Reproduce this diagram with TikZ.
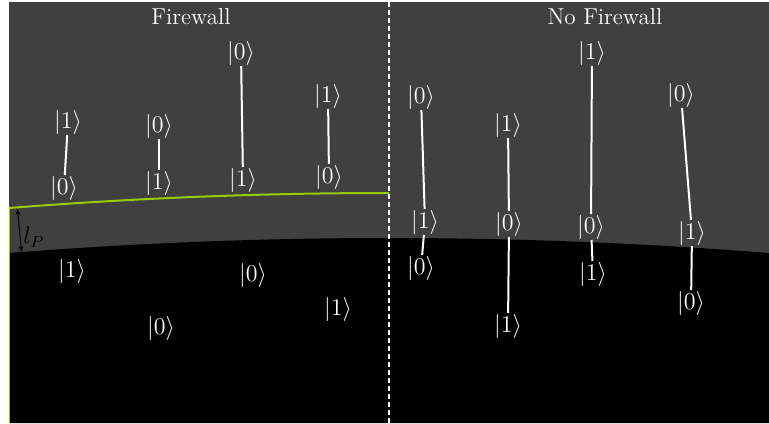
\documentclass[tikz,border=0pt]{standalone}
\usetikzlibrary{arrows.meta}
\definecolor{bggray}{RGB}{64,64,64}
\definecolor{fwgreen}{RGB}{153,204,0}
\begin{document}
\begin{tikzpicture}[x=0.5pt,y=-0.5pt,
  ket/.style={text=white,inner sep=0.3pt,font=\fontsize{12}{14}\selectfont},
  pair/.style={white,line width=1pt},
  ttl/.style={text=white,font=\fontsize{11.5}{13}\selectfont}]
\useasboundingbox (0,0) rectangle (769,423);
% background
\fill[bggray] (9,2) rectangle (769,423);
% black interior
\fill[black] (9,253) .. controls (262.3,233) and (515.7,233) .. (769,253) -- (769,423) -- (9,423) -- cycle;
% green firewall line
\draw[fwgreen,line width=1pt] (9,208) .. controls (135.7,198) and (262.3,193) .. (389,193);
\draw[fwgreen,line width=0.6pt] (9.3,208) -- (9.3,423);
% l_P arrow
\coordinate (lpa) at (17.5,209);
\coordinate (lpb) at (21.5,252);
\draw[black,line width=0.5pt,{Stealth[length=3pt,width=2.5pt]}-{Stealth[length=3pt,width=2.5pt]}] (lpa) -- (lpb);
\node[text=black,inner sep=0pt,font=\fontsize{11.5}{13}\selectfont] (lp) at (34,237) {$l_P$};
% dashed divider
\coordinate (dtop) at (389,2);
\coordinate (dbot) at (389,423);
\draw[white,line width=0.8pt,dash pattern=on 2.5pt off 1.5pt] (dtop) -- (dbot);
% titles
\node[ttl] (tfw) at (191,17) {Firewall};
\node[ttl] (tnf) at (605,17) {No Firewall};
% Firewall side pairs
\node[ket] (a1) at (68,122) {$|1\rangle$};
\node[ket] (a2) at (64,188) {$|0\rangle$};
\node[ket] (b1) at (159,126) {$|0\rangle$};
\node[ket] (b2) at (159,183) {$|1\rangle$};
\node[ket] (c1) at (241,53) {$|0\rangle$};
\node[ket] (c2) at (243,180) {$|1\rangle$};
\node[ket] (d1) at (328,96) {$|1\rangle$};
\node[ket] (d2) at (329,177) {$|0\rangle$};
\draw[pair] (a1) -- (a2);
\draw[pair] (b1) -- (b2);
\draw[pair] (c1) -- (c2);
\draw[pair] (d1) -- (d2);
% interior kets (firewall side)
\node[ket] (e1) at (72,271) {$|1\rangle$};
\node[ket] (e2) at (253,275) {$|0\rangle$};
\node[ket] (e3) at (338,309) {$|1\rangle$};
\node[ket] (e4) at (161,328) {$|0\rangle$};
% No firewall side triples
\node[ket] (f1) at (421,97) {$|0\rangle$};
\node[ket] (f2) at (425,222) {$|1\rangle$};
\node[ket] (f3) at (421,268) {$|0\rangle$};
\node[ket] (g1) at (508,125) {$|1\rangle$};
\node[ket] (g2) at (509,224) {$|0\rangle$};
\node[ket] (g3) at (508,326) {$|1\rangle$};
\node[ket] (h1) at (592,53) {$|1\rangle$};
\node[ket] (h2) at (591,227) {$|0\rangle$};
\node[ket] (h3) at (593,274) {$|1\rangle$};
\node[ket] (k1) at (681,95) {$|0\rangle$};
\node[ket] (k2) at (692,233) {$|1\rangle$};
\node[ket] (k3) at (691,303) {$|0\rangle$};
\draw[pair] (f1) -- (f2);
\draw[pair] (f2) -- (f3);
\draw[pair] (g1) -- (g2);
\draw[pair] (g2) -- (g3);
\draw[pair] (h1) -- (h2);
\draw[pair] (h2) -- (h3);
\draw[pair] (k1) -- (k2);
\draw[pair] (k2) -- (k3);
\end{tikzpicture}
\end{document}
